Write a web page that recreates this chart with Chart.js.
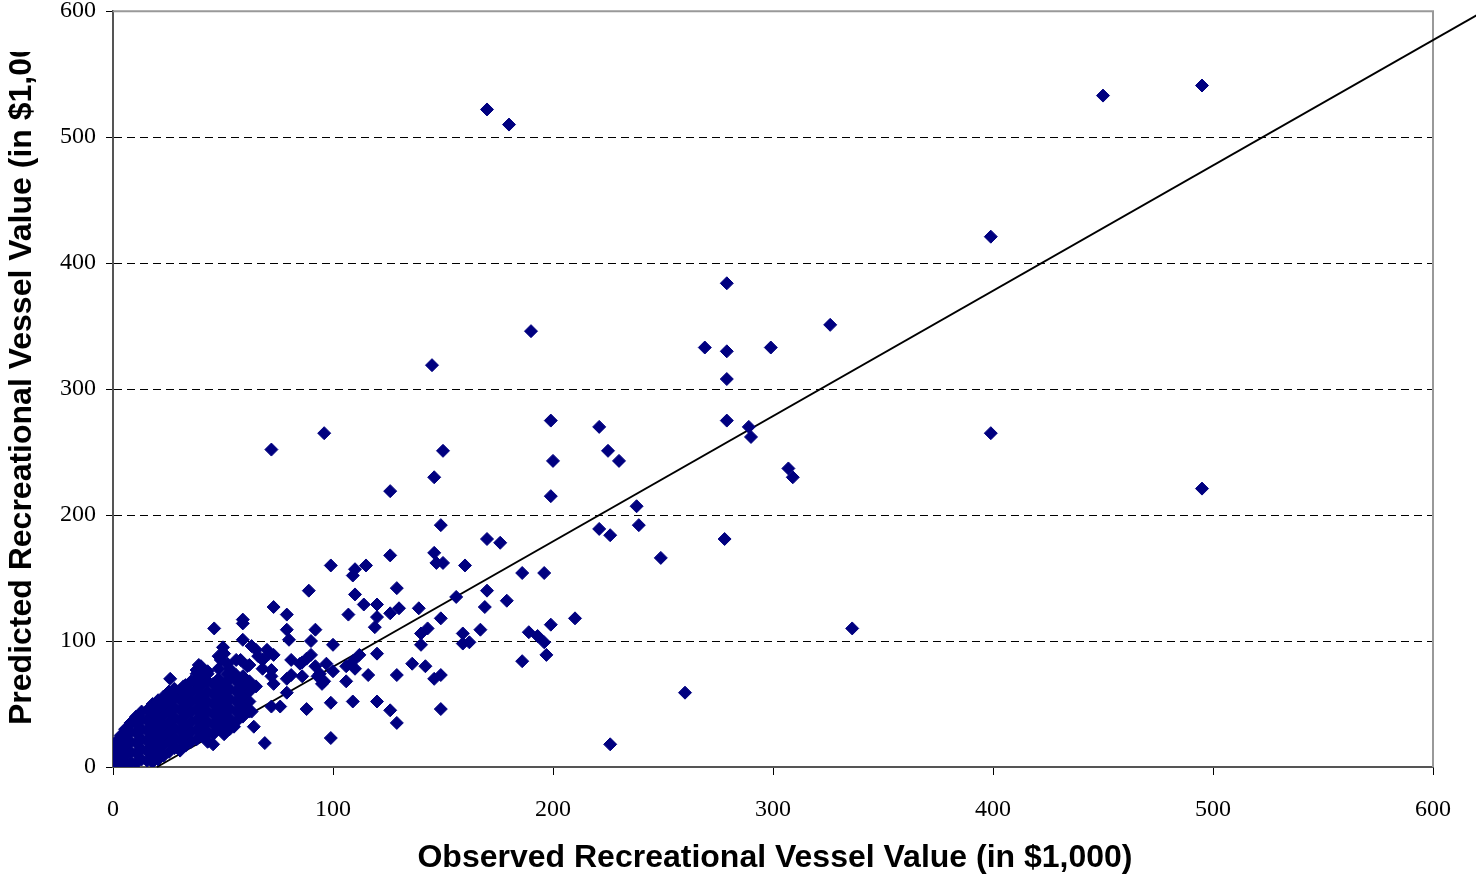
<!DOCTYPE html>
<html>
<head>
<meta charset="utf-8">
<title>Predicted vs Observed Recreational Vessel Value</title>
<script src="https://cdn.jsdelivr.net/npm/chart.js@4.4.1/dist/chart.umd.min.js"></script>
<style>
    html, body { margin: 0; padding: 0; background: #ffffff; }
    #wrap { width: 1476px; height: 876px; }
</style>
</head>
<body>
<div id="wrap"><canvas id="vesselChart" width="1476" height="876"></canvas></div>
<script>
// Axis ticks (in $1,000)
const axisTicks = [0, 100, 200, 300, 400, 500, 600];

// Observed vs predicted value pairs [observed, predicted]
const outlierPoints = [
    [170, 522], [180, 510], [450, 533], [495, 541], [399, 421], [279, 384], [190, 346],
    [326, 351], [269, 333], [279, 330], [299, 333], [145, 319], [279, 308], [96, 265],
    [72, 252], [399, 265], [199, 275], [221, 270], [279, 275], [225, 251], [289, 270],
    [290, 262], [150, 251], [200, 243], [230, 243], [146, 230], [307, 237], [309, 230],
    [126, 219], [199, 215], [495, 221], [238, 207], [239, 192], [149, 192], [221, 189],
    [226, 184], [170, 181], [176, 178], [278, 181], [249, 166], [336, 110], [260, 59],
    [226, 18]
];

const middlePoints = [
    [126, 168], [146, 170], [147, 162], [150, 162], [99, 160], [110, 157], [109, 152],
    [115, 160], [160, 160], [186, 154], [196, 154], [89, 140], [110, 137], [114, 129],
    [120, 129], [129, 142], [130, 126], [126, 122], [107, 121], [120, 119], [119, 111],
    [139, 126], [156, 135], [170, 140], [169, 127], [179, 132], [149, 118], [210, 118],
    [199, 113], [167, 109], [159, 106], [162, 99], [159, 98], [189, 107], [193, 104],
    [196, 99], [197, 89], [186, 84], [92, 109], [90, 100], [100, 97], [140, 106],
    [143, 110], [140, 97], [90, 89], [86, 83], [92, 80], [97, 82], [94, 74], [96, 68],
    [100, 76], [106, 80], [109, 84], [112, 89], [120, 90], [110, 78], [106, 68], [116, 73],
    [129, 73], [136, 82], [142, 80], [146, 70], [149, 73], [86, 72], [99, 51], [109, 52],
    [120, 52], [126, 45], [129, 35], [149, 46], [88, 46], [99, 23]
];

const nearPoints = [
    [73, 127], [79, 121], [59, 117], [59, 114], [46, 110], [79, 109], [59, 101], [80, 101],
    [50, 95], [70, 93], [73, 89], [68, 85], [88, 86], [81, 85], [85, 82], [58, 85], [40, 80],
    [49, 85], [26, 70], [28, 56], [18, 49], [40, 56], [64, 32], [69, 19], [55, 32], [76, 48],
    [79, 59], [95, 66], [93, 72], [73, 66], [79, 70], [65, 64], [72, 77], [65, 93], [55, 72],
    [61, 80], [52, 74], [43, 74], [38, 66], [32, 64], [40, 51], [52, 82], [62, 81], [68, 78],
    [39, 81], [38, 74], [56, 73], [72, 72], [81, 73], [71, 90], [63, 96], [66, 88], [63, 44],
    [72, 48]
];

const clusterPoints = [
    [0.5, 0], [0.5, 6], [0.5, 12], [0.5, 18],
    [2, 3], [2, 9], [2, 15], [2, 21],
    [3.5, 1], [3.5, 7], [3.5, 13], [3.5, 19], [3.5, 25],
    [5.5, 3], [5.5, 10], [5.5, 17], [5.5, 24], [5.5, 30],
    [8, 4], [8, 12], [8, 20], [8, 28], [8, 35],
    [10.5, 3], [10.5, 11], [10.5, 19], [10.5, 27], [10.5, 34], [10.5, 40],
    [13, 6], [13, 14], [13, 22], [13, 30], [13, 38], [13, 44],
    [15.5, 5], [15.5, 13], [15.5, 21], [15.5, 29], [15.5, 37], [15.5, 45],
    [18, 4], [18, 10], [18, 18], [18, 26], [18, 34], [18, 42], [18, 50],
    [20.5, 6], [20.5, 14], [20.5, 22], [20.5, 30], [20.5, 38], [20.5, 46], [20.5, 53],
    [23, 9], [23, 17], [23, 25], [23, 33], [23, 41], [23, 49], [23, 56],
    [25.5, 12], [25.5, 20], [25.5, 28], [25.5, 36], [25.5, 44], [25.5, 52], [25.5, 60],
    [28, 15], [28, 23], [28, 31], [28, 39], [28, 47], [28, 55], [28, 62],
    [30.5, 13], [30.5, 21], [30.5, 29], [30.5, 37], [30.5, 45], [30.5, 53], [30.5, 61],
    [33, 17], [33, 25], [33, 33], [33, 41], [33, 49], [33, 57], [33, 65],
    [35.5, 20], [35.5, 28], [35.5, 36], [35.5, 44], [35.5, 52], [35.5, 60], [35.5, 68],
    [38, 22], [38, 30], [38, 38], [38, 46], [38, 54], [38, 62], [38, 70], [38, 77],
    [40.5, 25], [40.5, 33], [40.5, 41], [40.5, 49], [40.5, 57], [40.5, 65], [40.5, 73],
    [43, 20], [43, 28], [43, 36], [43, 44], [43, 52], [43, 60], [43, 68], [43, 76],
    [45.5, 18], [45.5, 26], [45.5, 34], [45.5, 42], [45.5, 50], [45.5, 58], [45.5, 66],
    [48, 30], [48, 38], [48, 46], [48, 54], [48, 62], [48, 70], [48, 78], [48, 88],
    [50.5, 26], [50.5, 34], [50.5, 42], [50.5, 50], [50.5, 58], [50.5, 66], [50.5, 90],
    [53, 30], [53, 38], [53, 46], [53, 54], [53, 62], [53, 70], [53, 78],
    [56, 36], [56, 44], [56, 52], [56, 60], [56, 68], [56, 85],
    [59, 40], [59, 48], [59, 56], [59, 64], [59, 72],
    [62, 44], [62, 52], [62, 60], [62, 68]
];

// Reference line, endpoints [observed, predicted]
const fitLine = [[20, 0], [620, 597]];

const xTitle = 'Observed Recreational Vessel Value (in $1,000)';
const yTitle = 'Predicted Recreational Vessel Value (in $1,000)';

const toXY = p => ({ x: p[0], y: p[1] });
const scatterData = clusterPoints.concat(nearPoints, middlePoints, outlierPoints).map(toXY);

// Gray frame on top and right of the plot area
const framePlugin = {
    id: 'frame',
    beforeDatasetsDraw(chart) {
        const { ctx, chartArea: a } = chart;
        ctx.save();
        ctx.strokeStyle = '#999999';
        ctx.lineWidth = 2;
        ctx.beginPath();
        ctx.moveTo(a.left, a.top);
        ctx.lineTo(a.right, a.top);
        ctx.lineTo(a.right, a.bottom);
        ctx.stroke();
        ctx.restore();
    }
};

// Axis titles; the y title is cut off near the top like the original
const titlePlugin = {
    id: 'titles',
    afterDraw(chart) {
        const { ctx, chartArea: a } = chart;
        ctx.save();
        ctx.fillStyle = '#000000';
        ctx.font = 'bold 32px "Liberation Sans", Arial, sans-serif';
        ctx.textBaseline = 'middle';
        ctx.textAlign = 'center';
        ctx.fillText(xTitle, (a.left + a.right) / 2 + 2, 858);
        ctx.beginPath();
        ctx.rect(0, 52, 60, 824);
        ctx.clip();
        ctx.translate(22, 725);
        ctx.rotate(-Math.PI / 2);
        ctx.textAlign = 'left';
        ctx.fillText(yTitle, 0, 0);
        ctx.restore();
    }
};

const serif = '"Liberation Serif", "Times New Roman", serif';

new Chart(document.getElementById('vesselChart'), {
    type: 'scatter',
    data: {
        datasets: [
            {
                label: 'Vessels',
                data: scatterData,
                pointStyle: 'rectRot',
                pointRadius: 6.5,
                pointHoverRadius: 6.5,
                backgroundColor: '#000080',
                borderColor: '#000080',
                borderWidth: 1,
                order: 1
            },
            {
                label: 'Line',
                data: fitLine.map(toXY),
                showLine: true,
                pointRadius: 0,
                borderColor: '#000000',
                borderWidth: 2,
                clip: false,
                order: 2
            }
        ]
    },
    options: {
        responsive: false,
        animation: false,
        events: [],
        layout: { padding: { left: 0, right: 43, top: 11, bottom: 0 } },
        plugins: {
            legend: { display: false },
            tooltip: { enabled: false }
        },
        scales: {
            x: {
                type: 'linear',
                min: 0,
                max: 600,
                afterBuildTicks: s => { s.ticks = axisTicks.map(v => ({ value: v })); },
                afterFit: s => { s.height = 109; },
                ticks: { color: '#000000', font: { family: serif, size: 24 }, padding: 20, maxRotation: 0 },
                grid: { drawOnChartArea: false, tickLength: 8, tickColor: '#000000', tickWidth: 1 },
                border: { color: '#555555', width: 2 }
            },
            y: {
                type: 'linear',
                min: 0,
                max: 600,
                afterBuildTicks: s => { s.ticks = axisTicks.map(v => ({ value: v })); },
                afterFit: s => { s.width = 113; },
                ticks: { color: '#000000', font: { family: serif, size: 24, lineHeight: 0.1 }, padding: 10 },
                grid: {
                    color: c => (c.tick && (c.tick.value === 0 || c.tick.value === 600)) ? 'rgba(0,0,0,0)' : '#000000',
                    lineWidth: 1,
                    tickLength: 7,
                    tickColor: '#000000',
                    tickWidth: 1
                },
                border: { color: '#555555', width: 2, dash: [8, 5] }
            }
        }
    },
    plugins: [framePlugin, titlePlugin]
});
</script>
</body>
</html>
